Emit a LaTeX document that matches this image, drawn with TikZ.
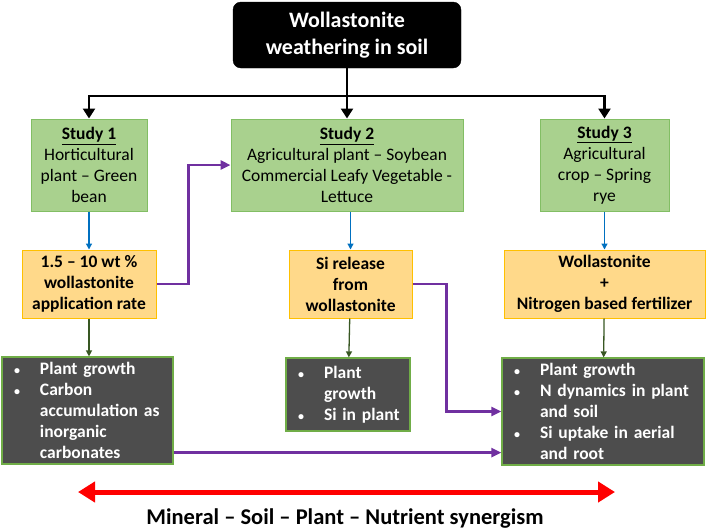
\documentclass[tikz,border=0pt]{standalone}
\usepackage{fontspec}
\setmainfont{Carlito}
\usepackage{xcolor}
\usepackage{tikz}
\usetikzlibrary{arrows.meta}

\definecolor{studyfill}{HTML}{A9D18E}
\definecolor{studyline}{HTML}{82BE64}
\definecolor{ratefill}{HTML}{FFD98A}
\definecolor{rateline}{HTML}{FFC000}
\definecolor{resfill}{HTML}{4D4D4D}
\definecolor{resline}{HTML}{70AD47}
\definecolor{linkpurple}{HTML}{7030A0}
\definecolor{linkblue}{HTML}{0070C0}
\definecolor{linkgreen}{HTML}{385723}

\newcommand{\bitem}{\makebox[28pt][l]{\hspace{2pt}{\fontsize{12}{12}\selectfont\textbullet}}}
\newcommand{\bcont}{\hspace*{28pt}}

\begin{document}
\begin{tikzpicture}[x=1pt, y=-1pt,
    topbox/.style={draw=black, fill=black, rounded corners=8pt, text=white, align=center,
      minimum width=228pt, minimum height=66pt, font=\fontsize{22}{27}\selectfont\bfseries},
    studybox/.style={draw=studyline, fill=studyfill, line width=1pt, align=center,
      minimum height=92pt, inner sep=2pt, font=\fontsize{17.5}{21}\selectfont},
    ratebox/.style={draw=rateline, fill=ratefill, line width=1pt, align=center,
      minimum height=68pt, inner sep=2pt, font=\fontsize{17.5}{21}\selectfont\bfseries},
    resbox/.style={draw=resline, fill=resfill, line width=1.2pt, text=white, align=left,
      inner xsep=10pt, inner ysep=1pt, font=\fontsize{17.5}{21}\selectfont\bfseries},
    blk/.style={line width=2.7pt, black, -{Triangle[length=10pt,width=12pt]}},
    bluearr/.style={line width=1.3pt, linkblue, -{Triangle[length=6pt,width=6pt]}},
    greenarr/.style={line width=1.3pt, linkgreen, -{Triangle[length=6pt,width=6pt]}},
    purparr/.style={line width=2.5pt, linkpurple, -{Triangle[length=10pt,width=9pt]}}]

  \useasboundingbox (0,0) rectangle (708,531);

  % title
  \node[topbox] (weather) at (347,35) {Wollastonite\\weathering in soil};

  % studies
  \node[studybox, minimum width=116pt] (st1) at (89,165)
    {\underline{\textbf{Study 1}}\\Horticultural\\plant -- Green\\bean};
  \node[studybox, minimum width=232pt] (st2) at (347,165)
    {\underline{\textbf{Study 2}}\\Agricultural plant -- Soybean\\Commercial Leafy Vegetable -\\Lettuce};
  \node[studybox, minimum width=129pt] (st3) at (604.5,165)
    {\underline{\textbf{Study 3}}\\Agricultural\\crop -- Spring\\rye};

  % treatments
  \node[ratebox, minimum width=134pt] (app) at (89,284)
    {1.5 -- 10 wt \%\\wollastonite\\application rate};
  \node[ratebox, minimum width=123pt] (sirel) at (350.5,284)
    {Si release\\from\\wollastonite};
  \node[ratebox, minimum width=201pt] (nfert) at (604.5,284)
    {Wollastonite\\+\\Nitrogen based fertilizer};

  % results
  \node[resbox, text width=151pt, minimum height=107pt] (res1) at (87.5,410.5)
    {\bitem Plant growth\\\bitem Carbon\\\bcont accumulation as\\\bcont inorganic\\\bcont carbonates};
  \node[resbox, text width=104pt, minimum height=73pt] (res2) at (348,394.5)
    {\bitem Plant\\\bcont growth\\\bitem Si in plant};
  \node[resbox, text width=182pt, minimum height=107pt] (res3) at (603,411.5)
    {\bitem Plant growth\\\bitem N dynamics in plant\\\bcont and soil\\\bitem Si uptake in aerial\\\bcont and root};

  % title to studies
  \coordinate (split) at (347,96);
  \draw[blk] (weather.south) -- (st2.north);
  \draw[blk, {Triangle[length=10pt,width=12pt]}-{Triangle[length=10pt,width=12pt]}]
    (st1.north) |- (split) -| (st3.north);

  \draw[bluearr] (st1) -- (app);
  \draw[bluearr] (st2.south -| sirel) -- (sirel);
  \draw[bluearr] (st3) -- (nfert);

  \draw[greenarr] (app) -- (res1.north -| app);
  \draw[greenarr] (sirel) -- (res2);
  \draw[greenarr] (nfert) -- (res3);

  \draw[purparr] (app.east) -- ++(32,0) |- (st2.west);
  \draw[purparr] (sirel.east) -- ++(34,0) |- (res3.west);
  \draw[purparr] ([yshift=12pt]res1.south east) -- ([yshift=12pt]res1.south east -| res3.west);

  % synergism
  \coordinate (synL) at (78,492);
  \coordinate (synR) at (615,492);
  \draw[red, line width=5pt, {Triangle[length=17pt,width=20pt]}-{Triangle[length=17pt,width=20pt]}] (synL) -- (synR);
  \node[font=\fontsize{22.5}{27}\selectfont\bfseries] (syn) at (345,518) {Mineral -- Soil -- Plant -- Nutrient synergism};
\end{tikzpicture}
\end{document}
